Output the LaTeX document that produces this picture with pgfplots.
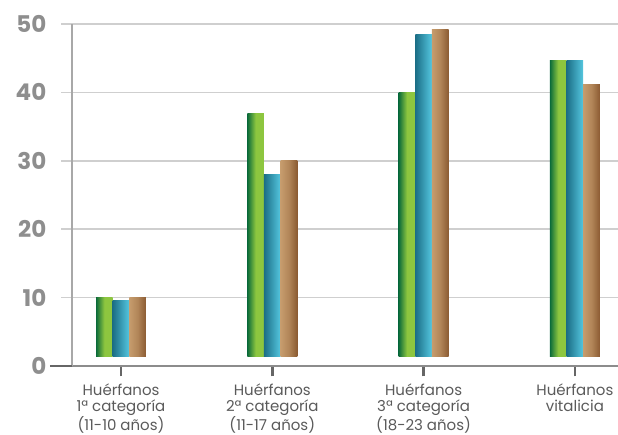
\documentclass[border=0pt]{standalone}
\usepackage{fontspec}
\setmainfont{Poppins}
\usepackage{pgfplots}
\pgfplotsset{compat=1.18}

\definecolor{gridgray}{HTML}{CFCFCF}
\definecolor{yaxisgray}{HTML}{A8A8A8}
\definecolor{xaxisgray}{HTML}{8C8C8C}
\definecolor{tickdark}{HTML}{666666}
\definecolor{numgray}{HTML}{8E8E8E}
\definecolor{labelgray}{HTML}{5A5A5A}
\definecolor{greenD}{HTML}{0B6B3A}
\definecolor{greenL}{HTML}{8DC63F}
\definecolor{tealD}{HTML}{1B6E86}
\definecolor{tealL}{HTML}{55C7E0}
\definecolor{brownL}{HTML}{C69C6D}
\definecolor{brownD}{HTML}{8B5B32}

% one bar from the 1.4 base: left edge, right edge, value, colours left/middle/right
\newcommand{\gbar}[6]{%
  \addplot[draw=none, left color=#4, right color=#6, middle color=#5]
    coordinates {(#1,1.4) (#1,#3) (#2,#3) (#2,1.4)};}

\begin{document}
\begin{tikzpicture}
\begin{axis}[
  name=ax,
  at={(0,0)}, anchor=south west,
  scale only axis,
  width=546pt, height=342pt,
  xmin=0.676, xmax=4.285,
  ymin=0, ymax=50,
  axis lines*=left,
  x axis line style={draw=xaxisgray, line width=2pt},
  y axis line style={draw=yaxisgray, line width=1.7pt},
  ytick={0,10,...,50},
  xtick={1,2,3,4},
  xticklabels={{Huérfanos\\1ª categoría\\(11-10 años)},
               {Huérfanos\\2ª categoría\\(11-17 años)},
               {Huérfanos\\3ª categoría\\(18-23 años)},
               {Huérfanos\\vitalicia}},
  tick align=outside,
  major tick length=10.5pt,
  ymajorgrids,
  grid style={draw=gridgray, line width=1.7pt},
  ytick style={draw=gridgray, line width=1.7pt},
  xtick style={draw=tickdark, line width=2.5pt},
  /pgf/number format/assume math mode=true,
  yticklabel style={font=\fontsize{23}{23}\selectfont\bfseries, text=numgray,
                    inner sep=0pt, xshift=-15pt},
  xticklabel style={font=\fontsize{15}{16}\selectfont, text=labelgray,
                    align=center, yshift=-4pt},
]
% Huérfanos 1ª categoría
\gbar{0.835}{0.945}{10}{greenD}{greenL}{greenL}
\gbar{0.945}{1.055}{9.6}{tealD}{tealD!50!tealL}{tealL}
\gbar{1.055}{1.165}{10}{brownL}{brownL!65!brownD}{brownD}
% Huérfanos 2ª categoría
\gbar{1.835}{1.945}{36.9}{greenD}{greenL}{greenL}
\gbar{1.945}{2.055}{28}{tealD}{tealD!50!tealL}{tealL}
\gbar{2.055}{2.165}{30.1}{brownL}{brownL!65!brownD}{brownD}
% Huérfanos 3ª categoría
\gbar{2.835}{2.945}{40}{greenD}{greenL}{greenL}
\gbar{2.945}{3.055}{48.4}{tealD}{tealD!50!tealL}{tealL}
\gbar{3.055}{3.165}{49.2}{brownL}{brownL!65!brownD}{brownD}
% Huérfanos vitalicia
\gbar{3.835}{3.945}{44.7}{greenD}{greenL}{greenL}
\gbar{3.945}{4.055}{44.7}{tealD}{tealD!50!tealL}{tealL}
\gbar{4.055}{4.165}{41.1}{brownL}{brownL!65!brownD}{brownD}
\end{axis}
\draw[tickdark, line width=2pt] ([xshift=-22pt]ax.south west) -- (ax.south west);
\pgfresetboundingbox
\path[use as bounding box] ([xshift=-72pt,yshift=-69pt]ax.south west)
  rectangle ([yshift=24pt]ax.north east);
\end{tikzpicture}
\end{document}
